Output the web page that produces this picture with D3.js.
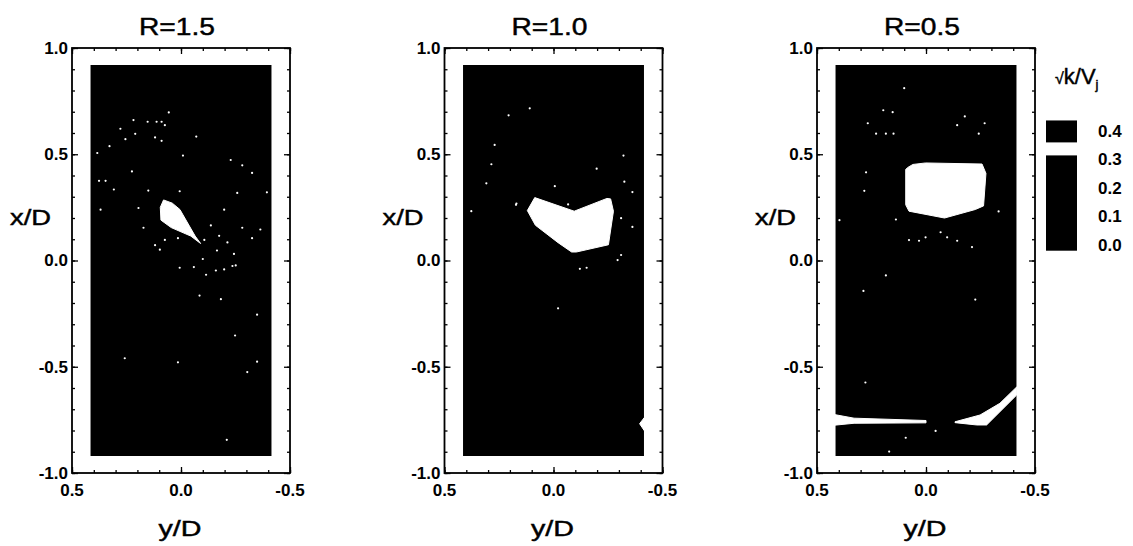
<!DOCTYPE html>
<html>
<head>
<meta charset="utf-8">
<script src="https://cdn.jsdelivr.net/npm/d3@7"></script>
<style>
  body { margin: 0; background: #fff; }
  text { font-family: "Liberation Sans", Arial, Helvetica, sans-serif; fill: #000; }
  text.heavy { stroke: #000; stroke-width: 0.45px; }
</style>
</head>
<body>
<svg id="chart" width="1133" height="546"></svg>
<script>
// ---- data -------------------------------------------------------------
const titles = ["R=1.5", "R=1.0", "R=0.5"];
const xAxisTicks = [0.5, 0.0, -0.5];            // y/D labels
const yAxisTicks = [1.0, 0.5, 0.0, -0.5, -1.0]; // x/D labels
const legendTicks = [0.0, 0.1, 0.2, 0.3, 0.4];
const legendBreaks = [0.315, 0.36];             // level boundaries of the colour bands
const legendSpan = [-0.02, 0.437];

// measured field: y/D and x/D extent, background level
const fieldYD = [0.415, -0.415];
const fieldXD = [-0.92, 0.92];
const fieldLevel = 0.15;
const hotLevel = 0.33;

// contour regions at the 0.315-0.36 level, points as [y/D, x/D]
const hot15 = [[0.08,0.285],[0.095,0.25],[0.092,0.19],[0.045,0.155],[-0.045,0.115],
  [-0.09,0.08],[-0.065,0.115],[0.005,0.24],[0.04,0.27]];
const hot10 = [[0.086,0.296],[0.12,0.235],[0.083,0.166],[-0.021,0.084],[-0.083,0.04],
  [-0.105,0.04],[-0.252,0.074],[-0.275,0.232],[-0.262,0.29],[-0.245,0.292],[-0.095,0.232]];
const notch10 = [[-0.416,-0.74],[-0.395,-0.768],[-0.416,-0.8]];
const hot05 = [[0.085,0.437],[0.06,0.452],[0.002,0.459],[-0.257,0.454],[-0.275,0.41],
  [-0.264,0.257],[-0.226,0.24],[-0.085,0.2],[0.078,0.232],[0.093,0.262],[0.093,0.428]];
const band05a = [[0.42,-0.725],[0.33,-0.742],[0.0,-0.753],[0.0,-0.764],[0.33,-0.766],[0.42,-0.775]];
const band05b = [[-0.133,-0.759],[-0.248,-0.727],[-0.339,-0.672],[-0.416,-0.595],[-0.416,-0.633],
  [-0.278,-0.774],[-0.233,-0.774],[-0.133,-0.763]];

// isolated points at the same level, [y/D, x/D]
const spots15 = [[0.056,0.697],[0.153,0.653],[0.218,0.661],[0.112,0.653],[0.089,0.653],[0.074,0.637],
  [0.278,0.62],[0.255,0.571],[0.21,0.596],[0.119,0.579],[0.089,0.563],[-0.07,0.583],[0.328,0.538],
  [0.384,0.506],[-0.009,0.494],[-0.228,0.473],[-0.281,0.448],[-0.326,0.412],[0.225,0.419],[0.376,0.375],
  [0.346,0.375],[0.308,0.334],[0.15,0.329],[0.006,0.326],[-0.258,0.318],[-0.394,0.321],[0.369,0.239],
  [0.195,0.247],[-0.198,0.239],[-0.137,0.165],[-0.281,0.154],[-0.364,0.146],[-0.175,0.116],[-0.213,0.085],
  [-0.326,0.105],[0.172,0.154],[0.074,0.097],[0.014,0.105],[-0.107,0.097],[0.119,0.072],[0.097,0.051],
  [-0.165,0.047],[-0.243,0.031],[-0.251,-0.023],[-0.236,-0.026],[-0.1,0.007],[-0.059,-0.031],[0.006,-0.034],
  [-0.115,-0.067],[-0.16,-0.047],[-0.198,-0.042],[-0.085,-0.165],[-0.183,-0.182],[-0.349,-0.255],
  [-0.248,-0.353],[0.258,-0.46],[0.014,-0.479],[-0.349,-0.476],[-0.304,-0.525],[-0.21,-0.844]];
const spots10 = [[0.109,0.716],[0.206,0.683],[0.27,0.544],[0.285,0.453],[0.308,0.363],[0.377,0.232],
  [0.17,0.268],[0.172,0.262],[-0.067,0.264],[-0.006,0.35],[-0.198,0.432],[-0.321,0.494],[-0.325,0.371],
  [-0.362,0.322],[-0.31,0.199],[-0.362,0.158],[-0.31,0.026],[-0.294,0.002],[-0.121,-0.039],[-0.152,-0.034],
  [-0.021,-0.225]];
const spots05 = [[0.1,0.811],[0.196,0.707],[0.267,0.646],[0.229,0.597],[0.184,0.597],[0.149,0.597],
  [0.153,0.698],[-0.178,0.678],[-0.269,0.646],[-0.242,0.597],[-0.143,0.637],[0.275,0.415],[0.283,0.328],
  [0.138,0.193],[0.397,0.19],[0.078,0.096],[0.032,0.093],[0.002,0.109],[-0.067,0.133],[-0.097,0.109],
  [-0.143,0.093],[-0.211,0.063],[-0.333,0.231],[0.184,-0.07],[0.287,-0.143],[-0.226,-0.184],
  [0.278,-0.574],[0.169,-0.899],[0.093,-0.834],[-0.044,-0.802]];

const regions = [[hot15], [hot10, notch10], [hot05, band05a, band05b]];
const spots = [spots15, spots10, spots05];

// ---- layout -----------------------------------------------------------
const svg = d3.select("#chart");
const panelW = 218, panelH = 425, panelTop = 48;
const panelLeft = [72, 444.5, 817];

const levelColor = d3.scaleThreshold().domain(legendBreaks).range(["#000", "#fff", "#000"]);
const fmt = d => d.toFixed(1).replace("\u2212", "-");

titles.forEach((title, i) => {
  const g = svg.append("g").attr("transform", `translate(${panelLeft[i]},${panelTop})`);
  const sx = d3.scaleLinear().domain([0.5, -0.5]).range([0, panelW]);
  const sy = d3.scaleLinear().domain([-1, 1]).range([panelH, 0]);

  // measured field
  g.append("rect")
    .attr("x", sx(fieldYD[0])).attr("y", sy(fieldXD[1]))
    .attr("width", sx(fieldYD[1]) - sx(fieldYD[0]))
    .attr("height", sy(fieldXD[0]) - sy(fieldXD[1]))
    .attr("fill", levelColor(fieldLevel));

  const line = d3.line().x(d => sx(d[0])).y(d => sy(d[1])).curve(d3.curveLinearClosed);
  g.selectAll("path.region").data(regions[i]).join("path")
    .attr("class", "region")
    .attr("d", line)
    .attr("fill", levelColor(hotLevel))
    .attr("stroke", levelColor(hotLevel)).attr("stroke-width", 1).attr("stroke-linejoin", "round");

  g.selectAll("circle.spot").data(spots[i]).join("circle")
    .attr("class", "spot")
    .attr("cx", d => sx(d[0])).attr("cy", d => sy(d[1]))
    .attr("r", 1.1).attr("fill", levelColor(hotLevel));

  // inward ticks on all four sides
  const minorV = d3.range(-10, 11).map(k => k / 10);
  const minorH = d3.range(-5, 6).map(k => k / 10);
  const sides = [
    [() => d3.axisLeft(sy), minorV, yAxisTicks, `translate(0,0)`],
    [() => d3.axisRight(sy), minorV, yAxisTicks, `translate(${panelW},0)`],
    [() => d3.axisBottom(sx), minorH, xAxisTicks, `translate(0,${panelH})`],
    [() => d3.axisTop(sx), minorH, xAxisTicks, `translate(0,0)`]
  ];
  sides.forEach(([make, minor, major, tr]) => {
    [[minor, -3], [major, -6]].forEach(([vals, size]) => {
      const a = g.append("g").attr("transform", tr)
        .call(make().tickValues(vals).tickSize(size).tickFormat(""));
      a.select(".domain").remove();
      a.selectAll(".tick line").attr("stroke", "#000").attr("stroke-width", 1.3);
    });
  });

  // frame
  g.append("rect").attr("width", panelW).attr("height", panelH)
    .attr("fill", "none").attr("stroke", "#000").attr("stroke-width", 1.8);

  // tick labels
  g.selectAll("text.yl").data(yAxisTicks).join("text")
    .attr("class", "yl")
    .attr("x", -4).attr("y", d => sy(d)).attr("dy", "0.35em")
    .attr("text-anchor", "end").attr("font-size", 17).attr("font-weight", "bold")
    .text(fmt);
  g.selectAll("text.xl").data(xAxisTicks).join("text")
    .attr("class", "xl")
    .attr("x", d => sx(d)).attr("y", panelH + 23)
    .attr("text-anchor", "middle").attr("font-size", 17).attr("font-weight", "bold")
    .text(fmt);

  // titles
  g.append("text").attr("class", "heavy").attr("x", panelW / 2 - 4).attr("y", 35 - panelTop)
    .attr("text-anchor", "middle").attr("font-size", 24)
    .attr("textLength", 76).attr("lengthAdjust", "spacingAndGlyphs")
    .text(title);
  g.append("text").attr("class", "heavy").attr("x", -21).attr("y", 225 - panelTop)
    .attr("text-anchor", "end").attr("font-size", 22)
    .attr("textLength", 41).attr("lengthAdjust", "spacingAndGlyphs")
    .text("x/D");
  g.append("text").attr("class", "heavy").attr("x", panelW / 2 - 1).attr("y", 536 - panelTop)
    .attr("text-anchor", "middle").attr("font-size", 22)
    .attr("textLength", 43).attr("lengthAdjust", "spacingAndGlyphs")
    .text("y/D");
});

// ---- colour bar -------------------------------------------------------
const legY = d3.scaleLinear().domain([0, 0.4]).range([245, 131]);
const barX = 1046, barW = 31;
const bandEdges = [legendSpan[0], ...legendBreaks, legendSpan[1]];
const bands = d3.pairs(bandEdges);
svg.append("g").selectAll("rect").data(bands).join("rect")
  .attr("x", barX).attr("width", barW)
  .attr("y", d => legY(d[1])).attr("height", d => legY(d[0]) - legY(d[1]))
  .attr("fill", d => levelColor((d[0] + d[1]) / 2));

svg.append("g").selectAll("text").data(legendTicks).join("text")
  .attr("x", barX + barW + 21).attr("y", d => legY(d)).attr("dy", "0.35em")
  .attr("font-size", 17).attr("font-weight", "bold")
  .text(fmt);

const lt = svg.append("text").attr("class", "heavy").attr("x", barX + 9).attr("y", 84);
lt.append("tspan").attr("font-size", 16).text("\u221A");
lt.append("tspan").attr("font-size", 22).text("k/V");
lt.append("tspan").attr("font-size", 13).attr("dy", 5).text("j");
</script>
</body>
</html>
